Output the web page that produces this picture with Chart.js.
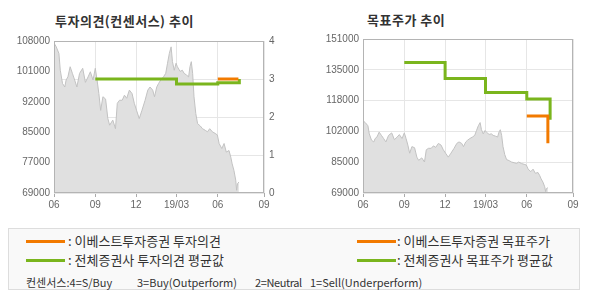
<!DOCTYPE html>
<html>
<head>
<meta charset="utf-8">
<script src="https://cdn.jsdelivr.net/npm/chart.js@4.4.0/dist/chart.umd.min.js"></script>
<style>
body { margin: 0; background: #fff; width: 590px; height: 300px; position: relative; overflow: hidden; font-family: "Noto Sans CJK KR", sans-serif; }
canvas { position: absolute; top: 0; }
.title { position: absolute; font-weight: bold; font-size: 13px; letter-spacing: 0.5px; color: #333; line-height: 15px; white-space: nowrap; }
#legend { position: absolute; left: 8px; top: 228px; width: 570px; height: 60px; border: 1px solid #ddd; background: #f9f9f9; color: #333; }
.item { position: absolute; font-size: 13px; line-height: 15px; white-space: nowrap; }
.note { position: absolute; font-size: 11px; line-height: 14px; white-space: nowrap; top: 46px; }
.swatch { position: absolute; width: 39px; height: 3px; }
</style>
</head>
<body>
<div class="title" style="left:55px;top:13px">투자의견(컨센서스) 추이</div>
<div class="title" style="left:367px;top:12px">목표주가 추이</div>
<canvas id="opinionChart" width="295" height="220" style="left:0"></canvas>
<canvas id="targetChart" width="295" height="220" style="left:295px"></canvas>

<div id="legend">
  <div class="swatch" style="left:17px;top:11px;background:#f27a00"></div>
  <div class="item" style="left:59px;top:4px">: 이베스트투자증권 투자의견</div>
  <div class="swatch" style="left:17px;top:30px;background:#7ab51d"></div>
  <div class="item" style="left:59px;top:23px">: 전체증권사 투자의견 평균값</div>
  <div class="swatch" style="left:348px;top:11px;background:#f27a00"></div>
  <div class="item" style="left:388px;top:4px">: 이베스트투자증권 목표주가</div>
  <div class="swatch" style="left:348px;top:30px;background:#7ab51d"></div>
  <div class="item" style="left:388px;top:23px">: 전체증권사 목표주가 평균값</div>
  <div class="note" style="left:17px">컨센서스:4=S/Buy</div>
  <div class="note" style="left:128px">3=Buy(Outperform)</div>
  <div class="note" style="left:246px;letter-spacing:-0.4px">2=Neutral</div>
  <div class="note" style="left:301px">1=Sell(Underperform)</div>
</div>

<script>
// days counted from 2018-06-01
var xTickDays = [0, 92, 183, 273, 365, 468];
var xTickLabels = ['06', '09', '12', '19/03', '06', '09'];

var priceDay = [0, 5, 11, 14, 19, 24, 27, 31, 36, 41, 46, 51, 57, 64, 70, 76, 81, 87, 92, 96,
  100, 104, 109, 115, 120, 124, 131, 137, 141, 146, 152, 157, 162, 168, 174, 179, 184, 190, 196, 203,
  209, 214, 220, 224, 229, 233, 238, 244, 249, 253, 257, 261, 264, 268, 272, 275, 281, 286, 290, 295,
  300, 303, 306, 309, 312, 316, 320, 326, 331, 337, 342, 347, 353, 359, 364, 368, 374, 379, 384, 390,
  394, 397, 401, 405, 407, 409, 412];
var price = [107500, 106500, 104800, 100500, 97100, 96200, 98000, 98800, 101400, 99700,
  98000, 96200, 99700, 101000, 97400, 98800, 100100, 98000, 101000, 98000,
  94500, 90200, 93700, 93100, 88100, 86400, 87700, 85500, 92000, 92800,
  92800, 94100, 93300, 95400, 94500, 92000, 90200, 88100, 90200, 92800,
  95400, 96200, 95400, 93700, 96200, 97100, 98000, 98800, 99700, 102300,
  104800, 106500, 102700, 100500, 102300, 101400, 100200, 100500, 99700, 99300,
  98800, 101400, 102700, 99700, 93700, 89400, 86800, 86200, 85500, 85100,
  84700, 85500, 84700, 84300, 83900, 81700, 80400, 81700, 79500, 79900,
  78200, 76500, 74800, 72300, 69700, 71400, 71800];

// consensus opinion (4=S/Buy ... 1=Sell)
var avgOpinionDay = [92, 273, 365, 413];
var avgOpinion = [3, 2.87, 2.9, 3];
var ebestOpinionDay = [365, 411];
var ebestOpinion = [3, 3];

// target price
var avgTargetDay = [92, 183, 273, 365, 417];
var avgTarget = [138500, 130000, 122500, 119000, 108000];
var ebestTargetDay = [365, 412];
var ebestTarget = [110000, 95500];

var opinionPriceTicks = ['69000', '77000', '85000', '92000', '101000', '108000'];
var targetPriceTicks = ['69000', '85000', '102000', '118000', '135000', '151000'];

var ORANGE = '#f27a00';
var GREEN = '#7ab51d';
var GRID = '#e6e6e6';
var tickFont = { family: 'Liberation Sans', size: 10 };

function points(xs, ys) {
  return xs.map(function (x, i) { return { x: x, y: ys[i] }; });
}

var frame = {
  id: 'frame',
  afterDraw: function (chart) {
    var a = chart.chartArea, c = chart.ctx;
    c.save();
    c.strokeStyle = '#b4b4b4';
    c.lineWidth = 1;
    c.strokeRect(Math.round(a.left) + 0.5, Math.round(a.top) + 0.5,
      Math.round(a.right - a.left) - 1, Math.round(a.bottom - a.top) - 1);
    c.restore();
  }
};

function xAxis() {
  return {
    type: 'linear',
    min: 0,
    max: 468,
    afterBuildTicks: function (s) { s.ticks = xTickDays.map(function (v) { return { value: v }; }); },
    afterFit: function (s) { s.height = 27; },
    grid: { color: GRID, tickColor: '#aaa', tickLength: 4 },
    border: { display: false },
    ticks: {
      font: tickFont, color: '#666', padding: 2, maxRotation: 0, autoSkip: false,
      callback: function (v, i) { return xTickLabels[i]; }
    }
  };
}

function priceAxis(labels, min, max, width, showGrid) {
  return {
    position: 'left',
    min: min,
    max: max,
    afterBuildTicks: function (s) {
      s.ticks = labels.map(function (l, i) { return { value: min + i * (max - min) / (labels.length - 1) }; });
    },
    afterFit: function (s) { s.width = width; },
    grid: { display: showGrid, color: GRID, drawTicks: false },
    border: { display: false },
    ticks: {
      font: tickFont, color: '#666', padding: 4,
      callback: function (v, i) { return labels[i]; }
    }
  };
}

function priceSet(axis) {
  return {
    label: '주가',
    data: points(priceDay, price),
    yAxisID: axis,
    borderColor: '#c2c2c2',
    borderWidth: 1,
    backgroundColor: '#e0e0e0',
    fill: 'start',
    pointRadius: 0,
    tension: 0
  };
}

function stepSet(label, xs, ys, color, axis) {
  return {
    label: label,
    data: points(xs, ys),
    yAxisID: axis,
    borderColor: color,
    borderWidth: 3,
    stepped: true,
    fill: false,
    pointRadius: 0
  };
}

new Chart(document.getElementById('opinionChart'), {
  type: 'line',
  data: {
    datasets: [
      stepSet('이베스트투자증권 투자의견', ebestOpinionDay, ebestOpinion, ORANGE, 'yOpinion'),
      stepSet('전체증권사 투자의견 평균값', avgOpinionDay, avgOpinion, GREEN, 'yOpinion'),
      priceSet('yPrice')
    ]
  },
  options: {
    responsive: false,
    animation: false,
    layout: { padding: { top: 41 } },
    plugins: { legend: { display: false }, tooltip: { enabled: false } },
    scales: {
      x: xAxis(),
      yPrice: priceAxis(opinionPriceTicks, 69000, 108000, 54, false),
      yOpinion: {
        position: 'right',
        min: 0,
        max: 4,
        afterFit: function (s) { s.width = 31; },
        grid: { color: GRID, drawTicks: false },
        border: { display: false },
        ticks: { stepSize: 1, font: tickFont, color: '#666', padding: 5 }
      }
    }
  },
  plugins: [frame]
});

new Chart(document.getElementById('targetChart'), {
  type: 'line',
  data: {
    datasets: [
      stepSet('이베스트투자증권 목표주가', ebestTargetDay, ebestTarget, ORANGE, 'yPrice'),
      stepSet('전체증권사 목표주가 평균값', avgTargetDay, avgTarget, GREEN, 'yPrice'),
      priceSet('yPrice')
    ]
  },
  options: {
    responsive: false,
    animation: false,
    layout: { padding: { top: 39, right: 17 } },
    plugins: { legend: { display: false }, tooltip: { enabled: false } },
    scales: {
      x: xAxis(),
      yPrice: priceAxis(targetPriceTicks, 69000, 151000, 68, true)
    }
  },
  plugins: [frame]
});
</script>
</body>
</html>
